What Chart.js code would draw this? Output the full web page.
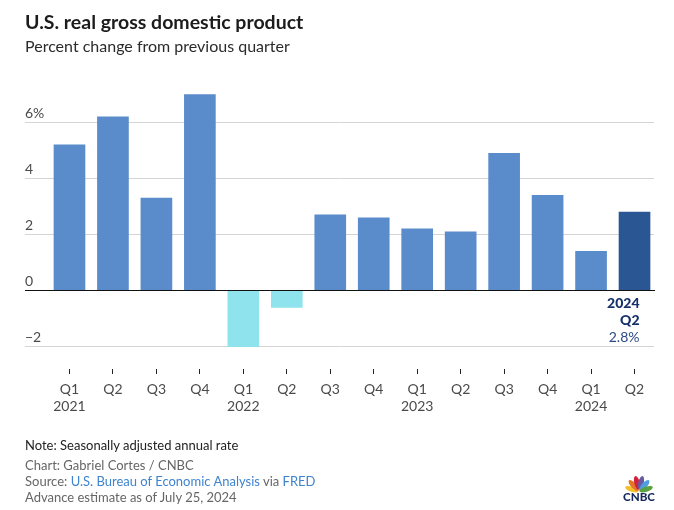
<!DOCTYPE html>
<html>
<head>
<meta charset="utf-8">
<title>U.S. real gross domestic product</title>
<script src="https://cdn.jsdelivr.net/npm/chart.js@4/dist/chart.umd.min.js"></script>
<style>
  html, body { margin: 0; padding: 0; background: #fff; }
  body { width: 674px; height: 510px; position: relative; overflow: hidden; font-family: Lato, sans-serif; }
  canvas { position: absolute; left: 0; top: 0; }
  .txt { position: absolute; left: 25px; white-space: nowrap; }
  #title { top: 10px; font-size: 19.5px; font-weight: 700; color: #1c1c1c; line-height: 24px; }
  #subtitle { top: 36px; font-size: 16px; color: #2b2b2b; line-height: 20px; }
  #note { top: 437px; font-size: 13px; color: #222; line-height: 16px; }
  .src { font-size: 13px; color: #666; line-height: 16px; }
  .src a { color: #3f84cf; text-decoration: none; }
  #logo { position: absolute; left: 618px; top: 474px; width: 42px; height: 30px; }
</style>
</head>
<body>
<canvas id="gdpChart" width="674" height="510"></canvas>
<div class="txt" id="title">U.S. real gross domestic product</div>
<div class="txt" id="subtitle">Percent change from previous quarter</div>
<div class="txt" id="note">Note: Seasonally adjusted annual rate</div>
<div class="txt src" style="top:457px">Chart: Gabriel Cortes / CNBC</div>
<div class="txt src" style="top:473px">Source: <a href="#">U.S. Bureau of Economic Analysis</a> via <a href="#">FRED</a></div>
<div class="txt src" style="top:489px">Advance estimate as of July 25, 2024</div>
<svg id="logo" viewBox="0 0 42 30">
  <g transform="translate(21 17.5)">
    <ellipse cx="0" cy="-7.5" rx="2.6" ry="7" fill="#f5c02e" transform="rotate(-72)"/>
    <ellipse cx="0" cy="-8" rx="2.7" ry="7" fill="#e2762b" transform="rotate(-42)"/>
    <ellipse cx="0" cy="-9" rx="2.7" ry="7" fill="#d0223a" transform="rotate(-13)"/>
    <ellipse cx="0" cy="-9" rx="2.7" ry="7" fill="#6a5aa5" transform="rotate(13)"/>
    <ellipse cx="0" cy="-8" rx="2.7" ry="7" fill="#4f9fe0" transform="rotate(42)"/>
    <ellipse cx="0" cy="-7.5" rx="2.6" ry="7" fill="#5aa142" transform="rotate(72)"/>
  </g>
  <text x="21" y="27" text-anchor="middle" font-family="Lato, sans-serif" font-weight="900" font-size="11" fill="#16295c" textLength="32" lengthAdjust="spacingAndGlyphs">CNBC</text>
</svg>

<script>
/* === DATA === */
const quarters = ["Q1", "Q2", "Q3", "Q4", "Q1", "Q2", "Q3", "Q4", "Q1", "Q2", "Q3", "Q4", "Q1", "Q2"];
const years = ["2021", "", "", "", "2022", "", "", "", "2023", "", "", "", "2024", ""];
const gdpChange = [5.2, 6.2, 3.3, 7.0, -2.0, -0.6, 2.7, 2.6, 2.2, 2.1, 4.9, 3.4, 1.4, 2.8];
const yTicks = [-2, 0, 2, 4, 6];
const yTickLabels = ["\u22122", "0", "2", "4", "6%"];
const calloutLines = ["2024", "Q2", "2.8%"];

const BLUE = "#5a8bca";
const CYAN = "#8ee3ec";
const DARK = "#2a5694";

function barColor(ctx) {
  if (ctx.dataIndex === gdpChange.length - 1) return DARK;
  return ctx.raw < 0 ? CYAN : BLUE;
}

/* === GRID, Y LABELS === */
// gridlines start left of the plot area, so the library grid can't draw them
const gridPlugin = {
  id: "gridPlugin",
  beforeDatasetsDraw(chart) {
    const c = chart.ctx, y = chart.scales.y;
    c.save();
    y.ticks.forEach(t => {
      if (t.value === 0) return;
      const py = Math.floor(y.getPixelForValue(t.value)) + 0.5;
      c.strokeStyle = "#d4d4d4";
      c.lineWidth = 1;
      c.beginPath();
      c.moveTo(25, py);
      c.lineTo(654, py);
      c.stroke();
    });
    c.restore();
  },
  afterDatasetsDraw(chart) {
    const c = chart.ctx, x = chart.scales.x, y = chart.scales.y;
    c.save();
    // zero line
    const zero = Math.floor(y.getPixelForValue(0)) + 0.5;
    c.strokeStyle = "#111";
    c.lineWidth = 1;
    c.beginPath();
    c.moveTo(25, zero);
    c.lineTo(655, zero);
    c.stroke();

    // y tick labels sit on top of their gridline
    c.font = "14px Lato, sans-serif";
    c.fillStyle = "#4a4a4a";
    c.textAlign = "left";
    c.textBaseline = "alphabetic";
    y.ticks.forEach(t => {
      c.fillText(t.label, 25, y.getPixelForValue(t.value) - 5);
    });

    // callout under the last bar
    const right = x.getPixelForValue(gdpChange.length - 1) + 5;
    c.textAlign = "right";
    c.fillStyle = "#16306b";
    c.font = "900 14px Lato, sans-serif";
    c.fillText(calloutLines[0], right, zero + 17);
    c.fillText(calloutLines[1], right, zero + 34);
    c.fillStyle = "#2b4a86";
    c.font = "14px Lato, sans-serif";
    c.fillText(calloutLines[2], right, zero + 51);
    c.restore();
  }
};

/* === CHART === */
new Chart(document.getElementById("gdpChart"), {
  type: "bar",
  data: {
    labels: quarters.map((q, i) => years[i] ? [q, years[i]] : q),
    datasets: [{
      data: gdpChange,
      backgroundColor: barColor,
      barThickness: 31
    }]
  },
  options: {
    responsive: false,
    animation: false,
    layout: { padding: { left: 47.75, right: 17.75, top: 80.5, bottom: 0 } },
    plugins: { legend: { display: false }, tooltip: { enabled: false } },
    scales: {
      x: {
        grid: { offset: false, drawOnChartArea: false, drawTicks: true, tickLength: 5, color: "#222", tickWidth: 1 },
        border: { display: false },
        ticks: {
          color: "#4a4a4a",
          font: { family: "Lato, sans-serif", size: 14 },
          padding: 7,
          maxRotation: 0,
          autoSkip: false,
          lineHeight: 1.2
        },
        afterFit(scale) { scale.height = 141; }
      },
      y: {
        min: -2.8,
        max: 7.5,
        grid: { display: false },
        border: { display: false },
        ticks: {
          display: false,
          callback: v => yTickLabels[yTicks.indexOf(v)]
        },
        afterBuildTicks(scale) { scale.ticks = yTicks.map(v => ({ value: v })); },
        afterFit(scale) { scale.width = 0; }
      }
    }
  },
  plugins: [gridPlugin]
});
</script>
</body>
</html>
